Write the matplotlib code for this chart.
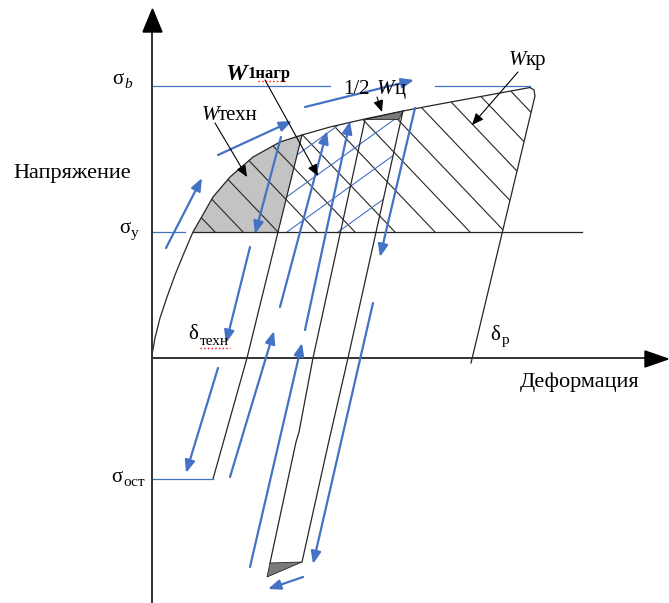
import numpy as np
import matplotlib.pyplot as plt
from matplotlib.patches import Polygon

plt.rcParams['font.family'] = ['Liberation Serif', 'DejaVu Serif']

BLUE = '#4472C4'
INK = '#262626'

# everything is laid out in image pixels (y grows downwards)
W, H = 669, 603
x0, y0 = 152, 358          # origin of the axes
sig_y, sig_b, sig_ost = 232, 85.5, 479

# loading curve
curve_x = [152, 155, 160, 167, 175, 184, 193, 213, 230, 253, 280, 302, 330, 367, 403, 440, 470, 500, 530]
curve_y = [355, 338, 318, 297, 275, 253, 232, 197, 177, 157, 142, 135, 127, 118.5, 111, 104, 98.5, 93, 87.5]

# unloading lines
l1_x, l1_y = [302, 278, 247, 213], [135, 232, 358, 479]
l2_x, l2_y = [365, 313, 299, 296, 270], [119.5, 358, 432, 442, 563]
l3_x, l3_y = [403, 348, 331, 328, 302], [111, 358, 432, 445, 562]
l4_x, l4_y = [530, 534, 535, 471], [87.5, 90, 96, 363]

# small cycle pieces (1/2 W_c)
top_tri_x, top_tri_y = [365, 403, 399], [119.5, 111, 119.5]
bot_tri_x, bot_tri_y = [270, 302, 267], [563, 562, 577]

# hatch lines: where they meet the sigma_y line
black_hatch = [215, 243, 278, 317, 355, 395, 435, 470, 505, 540, 575, 610, 645]
black_slope = 1.05
blue_hatch = [190, 238, 287, 338]
blue_slope = -0.72

# blue loading / unloading arrows (tail, head)
blue_arrows = [
    ((166, 248), (202, 178)),
    ((218, 155), (292, 121)),
    ((305, 107), (414, 80)),
    ((281, 137), (255, 234)),
    ((250, 247), (226, 343)),
    ((218, 368), (186, 473)),
    ((230, 477), (274, 331)),
    ((280, 307), (327, 131)),
    ((250, 567), (302, 343)),
    ((305, 330), (350, 121)),
    ((415, 108), (380, 257)),
    ((373, 303), (313, 564)),
    ((303, 577), (268, 589)),
]

# pointer arrows of the labels (tail, head)
label_arrows = [
    ((215, 123), (247, 177)),
    ((265, 80), (318, 176)),
    ((518, 72), (472, 125)),
    ((377, 97), (382, 112)),
]

fig = plt.figure(figsize=(W / 100, H / 100), dpi=100)
ax = fig.add_axes([0, 0, 1, 1])
ax.set_xlim(0, W)
ax.set_ylim(H, 0)
ax.axis('off')

cx = np.array(curve_x, float)
cy = np.array(curve_y, float)

# grey W_tech area: curve up to the first unloading line
m = (cx >= 193) & (cx <= 302)
grey = list(zip(cx[m], cy[m])) + [(l1_x[1], l1_y[1])]
ax.add_patch(Polygon(grey, closed=True, fc='#c3c3c3', ec='none', zorder=1))

# region under the curve above sigma_y (black hatch)
m = cx >= 193
l4_at_sy = np.interp(sig_y, l4_y[2:], l4_x[2:])
reg = list(zip(cx[m], cy[m])) + [(534, 90), (535, 96), (l4_at_sy, sig_y)]
clip_black = Polygon(reg, closed=True, fc='none', ec='none')
ax.add_patch(clip_black)

# region between first and third unloading lines (blue hatch)
m = (cx >= 302) & (cx <= 403)
l3_at_sy = np.interp(sig_y, l3_y[:2], l3_x[:2])
reg2 = [(l1_x[1], l1_y[1])] + list(zip(cx[m], cy[m])) + [(l3_at_sy, sig_y)]
clip_blue = Polygon(reg2, closed=True, fc='none', ec='none')
ax.add_patch(clip_blue)

for c in black_hatch:
    ln, = ax.plot([c, c - 300], [sig_y, sig_y - 300 * black_slope], color=INK, lw=0.8, zorder=2)
    ln.set_clip_path(clip_black)
for c in blue_hatch:
    ln, = ax.plot([c, c + 300], [sig_y, sig_y + 300 * blue_slope], color=BLUE, lw=0.8, zorder=2)
    ln.set_clip_path(clip_blue)

ax.add_patch(Polygon(list(zip(top_tri_x, top_tri_y)), closed=True, fc='#7a7a7a', ec=INK, lw=0.6, zorder=3))
ax.add_patch(Polygon(list(zip(bot_tri_x, bot_tri_y)), closed=True, fc='#7a7a7a', ec=INK, lw=0.6, zorder=3))

# curve and unloading lines
ax.plot(curve_x, curve_y, color=INK, lw=0.9, zorder=3)
for xs, ys in [(l1_x, l1_y), (l2_x, l2_y), (l3_x, l3_y), (l4_x, l4_y)]:
    ax.plot(xs, ys, color=INK, lw=0.9, zorder=3)
ax.plot([193, 582], [sig_y, sig_y], color=INK, lw=0.9, zorder=3)

# level lines
ax.plot([x0, 185], [sig_y, sig_y], color=BLUE, lw=0.9, zorder=3)
ax.plot([x0, 330], [sig_b, sig_b], color=BLUE, lw=0.9, zorder=3)
ax.plot([435, 530], [sig_b, sig_b], color=BLUE, lw=0.9, zorder=3)
ax.plot([x0, 213], [sig_ost, sig_ost], color=BLUE, lw=0.9, zorder=3)

# axes with arrow heads
ax.plot([x0, x0], [H, 30], color='#333333', lw=1.4, zorder=4)
ax.plot([x0, 646], [y0, y0], color='#333333', lw=1.4, zorder=4)
ax.add_patch(Polygon([(143, 32), (162, 32), (152.5, 9)], closed=True, fc='black', ec='black', zorder=4))
ax.add_patch(Polygon([(645, 351), (645, 367), (668, 359)], closed=True, fc='black', ec='black', zorder=4))

for tail, head in blue_arrows:
    ax.annotate('', xy=head, xytext=tail, zorder=5,
                arrowprops=dict(arrowstyle='-|>,head_length=0.75,head_width=0.3', color=BLUE,
                                lw=1.6, mutation_scale=10, shrinkA=0, shrinkB=0))
for tail, head in label_arrows:
    ax.annotate('', xy=head, xytext=tail, zorder=5,
                arrowprops=dict(arrowstyle='-|>,head_length=0.7,head_width=0.3', color='black',
                                lw=0.8, mutation_scale=10, shrinkA=0, shrinkB=0))

fs = 16
tk = dict(va='baseline', ha='left', zorder=6)
# axis names
ax.text(13, 178, 'Напряжение', fontsize=fs, **tk)
ax.text(520, 387, 'Деформация', fontsize=fs, **tk)

# levels
ax.text(112, 83.5, 'σ', fontsize=15, **tk)
ax.text(124.5, 88, 'b', fontsize=11, style='italic', **tk)
ax.text(119, 233, 'σ', fontsize=15, **tk)
ax.text(131, 237, 'y', fontsize=11, **tk)
ax.text(111, 482, 'σ', fontsize=15, **tk)
ax.text(123, 486, 'ост', fontsize=11, **tk)
ax.text(188, 339, 'δ', fontsize=15, **tk)
ax.text(200, 345, 'техн', fontsize=11, **tk)
ax.text(490, 340, 'δ', fontsize=15, **tk)
ax.text(502, 344, 'р', fontsize=11, **tk)

# energy labels
ax.text(202, 120, 'W', fontsize=15, style='italic', **tk)
ax.text(218, 120, 'техн', fontsize=15, **tk)
ax.text(225, 80, 'W', fontsize=17.5, style='italic', weight='bold', **tk)
ax.text(248, 78, '1нагр', fontsize=12, weight='bold', **tk)
ax.text(509, 65, 'W', fontsize=15, style='italic', **tk)
ax.text(526, 65, 'кр', fontsize=15, **tk)
ax.text(343, 94, '1/2', fontsize=15, **tk)
ax.text(377, 94, 'W', fontsize=15, style='italic', **tk)
ax.text(395, 94, 'ц', fontsize=15, **tk)

# spell-check underlines of the source document
ax.plot([258, 286], [81, 81], color='red', lw=1, ls=':', zorder=6)
ax.plot([200, 230], [348, 348], color='red', lw=1, ls=':', zorder=6)

fig.savefig('out.png', dpi=100)
